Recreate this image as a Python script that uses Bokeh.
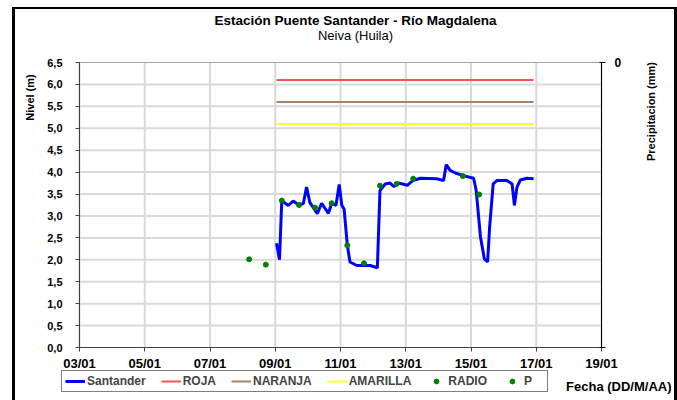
import math
from bokeh.plotting import figure
from bokeh.models import (Range1d, LinearAxis, FixedTicker, Legend, LegendItem,
                          Label, ColumnDataSource)
from bokeh.embed import file_html
from bokeh.resources import INLINE

# ---------------- data ----------------
tick_days = [3, 5, 7, 9, 11, 13, 15, 17, 19]
tick_labels = ["03/01", "05/01", "07/01", "09/01", "11/01", "13/01", "15/01", "17/01", "19/01"]
y_ticks = [0.0, 0.5, 1.0, 1.5, 2.0, 2.5, 3.0, 3.5, 4.0, 4.5, 5.0, 5.5, 6.0, 6.5]
y_labels = ["0,0", "0,5", "1,0", "1,5", "2,0", "2,5", "3,0", "3,5", "4,0", "4,5",
            "5,0", "5,5", "6,0", "6,5"]
prec_ticks = [0, 100]
prec_labels = ["0", " "]

santander_day = [9.04, 9.13, 9.20, 9.40, 9.55, 9.70, 9.86, 9.96, 10.06, 10.29, 10.42,
                 10.63, 10.73, 10.86, 10.96, 11.04, 11.11, 11.21, 11.29, 11.50, 11.91,
                 12.13, 12.21, 12.37, 12.52, 12.64, 12.78, 13.05, 13.22, 13.45, 13.95,
                 14.16, 14.24, 14.36, 14.52, 14.77, 15.08, 15.16, 15.29, 15.41, 15.51,
                 15.57, 15.68, 15.80, 16.10, 16.26, 16.33, 16.41, 16.51, 16.72, 16.92]
santander_nivel = [2.38, 2.00, 3.35, 3.24, 3.34, 3.26, 3.28, 3.66, 3.31, 3.05, 3.29,
                   3.06, 3.29, 3.24, 3.72, 3.24, 3.16, 2.33, 1.95, 1.87, 1.87,
                   1.82, 3.58, 3.73, 3.75, 3.67, 3.75, 3.70, 3.81, 3.86, 3.85,
                   3.81, 4.17, 4.04, 3.98, 3.92, 3.86, 3.58, 2.52, 2.02, 1.95,
                   2.74, 3.73, 3.81, 3.81, 3.73, 3.24, 3.66, 3.82, 3.86, 3.85]

radio_day = [8.20, 8.71, 9.20, 9.73, 10.22, 10.73, 11.21, 11.72, 12.21, 12.72, 13.23, 14.75, 15.25]
radio_nivel = [2.01, 1.89, 3.35, 3.25, 3.19, 3.29, 2.33, 1.92, 3.69, 3.73, 3.85, 3.91, 3.49]

# P series: no readings shown in the chart
p_day = [float("nan")]
p_nivel = [float("nan")]

umbral_day = [9.04, 16.92]
roja = [6.1, 6.1]
naranja = [5.6, 5.6]
amarilla = [5.1, 5.1]

FONT = "Liberation Sans"

# ---------------- layout geometry (page pixels) ----------------
OFF_X, OFF_Y = 15, 9          # canvas origin on the page
W, H = 659, 391               # canvas size
PX_L, PX_R, PY_T, PY_B = 79, 601, 62, 347   # plot area on the page

kx = (PX_R - PX_L) / (tick_days[-1] - tick_days[0])
X0 = tick_days[0] - (PX_L - OFF_X) / kx
X1 = X0 + W / kx
ky = (PY_B - PY_T) / (y_ticks[-1] - y_ticks[0])
Y0 = y_ticks[0] - (OFF_Y + H - PY_B) / ky
Y1 = Y0 + H / ky
kp = (PY_B - PY_T) / (prec_ticks[-1] - prec_ticks[0])
P0 = prec_ticks[-1] + (OFF_Y + H - PY_B) / kp
P1 = prec_ticks[0] - (PY_T - OFF_Y) / kp


def dx(px):
    return X0 + (px - OFF_X) / kx


def dy(py):
    return Y0 + (OFF_Y + H - py) / ky


# ---------------- figure ----------------
p = figure(width=W, height=H, output_backend="svg", toolbar_location=None,
           x_range=Range1d(X0, X1), y_range=Range1d(Y0, Y1),
           min_border=0, min_border_left=0, min_border_right=0,
           min_border_top=0, min_border_bottom=0)
p.title = None
p.styles = {"margin-left": f"{OFF_X}px", "margin-top": f"{OFF_Y}px",
            "box-shadow": "-3px 0 0 0 #000, 0 -2px 0 0 #000, 3px 0 0 0 #000, "
                          "-3px -2px 0 0 #000, 3px -2px 0 0 #000"}
p.background_fill_color = "white"
p.border_fill_color = "white"
p.outline_line_color = None
p.xgrid.visible = False
p.ygrid.visible = False

# grid lines at the tick positions
nx, ny = len(tick_days), len(y_ticks)
p.segment(x0=tick_days, y0=[y_ticks[0]] * nx, x1=tick_days, y1=[y_ticks[-1]] * nx,
          line_color="#d9d9d9", line_width=2)
p.segment(x0=[tick_days[0]] * (ny - 2), y0=y_ticks[1:-1], x1=[tick_days[-1]] * (ny - 2),
          y1=y_ticks[1:-1], line_color="#d9d9d9", line_width=2)
p.segment(x0=[tick_days[0]], y0=[y_ticks[-1]], x1=[tick_days[-1]], y1=[y_ticks[-1]],
          line_color="#a6a6a6", line_width=1)

r_line = p.line(santander_day, santander_nivel, line_color="#0000ff", line_width=3)
r_roja = p.line(umbral_day, roja, line_color="#ff5050", line_width=2)
r_nar = p.line(umbral_day, naranja, line_color="#a88462", line_width=2)
r_ama = p.line(umbral_day, amarilla, line_color="#ffff33", line_width=2)
r_radio = p.scatter(radio_day, radio_nivel, size=5, fill_color="#008000", line_color="#008000")
r_p = p.scatter(x="x", y="y", source=ColumnDataSource(dict(x=p_day, y=p_nivel)),
                size=4, fill_color="#008000", line_color="#008000")

# axes (library axes, pinned to the plot area)
xa = p.xaxis[0]
xa.ticker = FixedTicker(ticks=tick_days)
xa.major_label_overrides = dict(zip(tick_days, tick_labels))
xa.fixed_location = y_ticks[0]
xa.bounds = (tick_days[0], tick_days[-1])
ya = p.yaxis[0]
ya.ticker = FixedTicker(ticks=y_ticks)
ya.major_label_overrides = dict(zip(y_ticks, y_labels))
ya.fixed_location = tick_days[0]
ya.bounds = (y_ticks[0], y_ticks[-1])

for ax in (xa, ya):
    ax.major_label_text_font = FONT
    ax.major_label_text_font_style = "bold"
    ax.major_label_text_color = "black"
    ax.axis_line_color = "#404040"
    ax.axis_line_width = 1
    ax.major_tick_line_color = "#404040"
    ax.major_tick_in = 0
    ax.major_tick_out = 4
    ax.minor_tick_line_color = None
xa.major_label_text_font_size = "13px"
ya.major_label_text_font_size = "11px"
xa.major_label_standoff = 4
ya.major_label_standoff = 13

p.extra_y_ranges = {"prec": Range1d(P0, P1)}
ra = LinearAxis(y_range_name="prec", ticker=FixedTicker(ticks=prec_ticks),
                major_label_overrides=dict(zip(prec_ticks, prec_labels)),
                fixed_location=tick_days[-1], bounds=(prec_ticks[0], prec_ticks[-1]))
ra.major_label_text_font = FONT
ra.major_label_text_font_style = "bold"
ra.major_label_text_font_size = "12px"
ra.major_label_text_color = "black"
ra.axis_line_color = "black"
ra.major_tick_line_color = "black"
ra.major_tick_in = 2
ra.major_tick_out = 4
ra.minor_tick_line_color = None
ra.major_label_standoff = 9
p.add_layout(ra, "right")

# legend
legend = Legend(items=[
    LegendItem(label="Santander", renderers=[r_line]),
    LegendItem(label="ROJA", renderers=[r_roja]),
    LegendItem(label="NARANJA", renderers=[r_nar]),
    LegendItem(label="AMARILLA", renderers=[r_ama]),
    LegendItem(label="RADIO", renderers=[r_radio]),
    LegendItem(label="P", renderers=[r_p]),
], orientation="horizontal", location=(61 - OFF_X, OFF_Y + H - 392))
legend.label_text_font = FONT
legend.label_text_font_style = "bold"
legend.label_text_font_size = "12px"
legend.label_standoff = 2
legend.label_height = 12
legend.glyph_width = 20
legend.glyph_height = 12
legend.spacing = 15
legend.padding = 3
legend.margin = 0
legend.border_line_color = "black"
legend.border_line_width = 1
legend.background_fill_color = "white"
legend.background_fill_alpha = 1
p.add_layout(legend, "center")


def lab(text, px, py, size, style="bold", angle=0.0, align="center"):
    p.add_layout(Label(x=dx(px), y=dy(py), text=text, text_font=FONT, text_font_size=size,
                       text_font_style=style, angle=angle, text_align=align,
                       text_baseline="middle", text_color="black"))


lab("Estación Puente Santander - Río Magdalena", 355, 20, "13.5px")
lab("Neiva (Huila)", 355, 35, "13px", style="normal")
lab("Nivel (m)", 29, 97, "11px", angle=math.pi / 2)
lab("Precipitacion (mm)", 650, 111, "11px", angle=math.pi / 2)
lab("Fecha (DD/M/AA)", 671, 386, "13px", align="right")

open("out.html", "w").write(file_html(p, INLINE))
